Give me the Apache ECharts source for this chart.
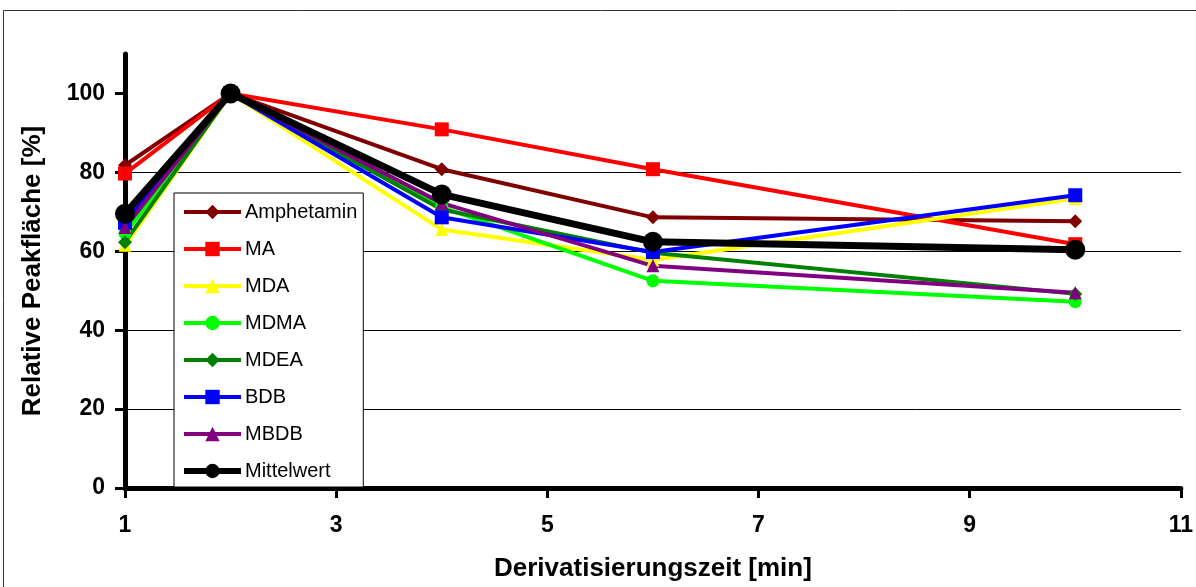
<!DOCTYPE html>
<html>
<head>
<meta charset="utf-8">
<script src="https://cdn.jsdelivr.net/npm/echarts@6/dist/echarts.min.js"></script>
<style>
  html, body { margin: 0; padding: 0; background: #fff; }
  #chart { width: 1196px; height: 587px; }
</style>
</head>
<body>
<div id="chart"></div>
<script>
// Derivatisierungszeit in Minuten
const times = [1, 2, 4, 6, 10];

// Relative Peakfläche [%] je Substanz
const amphetamin = [81.8, 100, 80.8, 68.6, 67.6];
const ma         = [79.7, 100, 90.9, 80.8, 61.8];
const mda        = [61.5, 100, 65.5, 57.8, 73.4];
const mdma       = [64.5, 100, 71.2, 52.5, 47.2];
const mdea       = [62.3, 100, 70.6, 59.6, 49.2];
const bdb        = [67.2, 100, 68.6, 59.8, 74.2];
const mbdb       = [66.0, 100, 72.2, 56.3, 49.5];
const mittelwert = [69.5, 100, 74.4, 62.4, 60.4];

const yTicks = [0, 20, 40, 60, 80, 100];

const FONT = '"Liberation Sans", Arial, sans-serif';

function pairs(values) {
  return times.map((t, i) => [t, values[i]]);
}

function mkSeries(name, values, color, symbol, symbolSize, width) {
  return {
    name: name,
    type: 'line',
    data: pairs(values),
    symbol: symbol,
    symbolSize: symbolSize,
    showAllSymbol: true,
    lineStyle: { color: color, width: width },
    itemStyle: { color: color, borderWidth: 0 },
    emphasis: { disabled: true },
    animation: false
  };
}

const series = [
  mkSeries('Amphetamin', amphetamin, '#800000', 'diamond', 14, 4),
  mkSeries('MA',         ma,         '#FF0000', 'rect',    14, 4),
  mkSeries('MDA',        mda,        '#FFFF00', 'triangle',13, 4),
  mkSeries('MDMA',       mdma,       '#00FF00', 'circle',  13, 4),
  mkSeries('MDEA',       mdea,       '#008000', 'diamond', 14, 4),
  mkSeries('BDB',        bdb,        '#0000FF', 'rect',    14, 4),
  mkSeries('MBDB',       mbdb,       '#800080', 'triangle',13, 4),
  mkSeries('Mittelwert', mittelwert, '#000000', 'circle',  20, 7)
];

// legend entries carry the same stroke widths as the lines
const legendData = series.map(s => ({
  name: s.name,
  lineStyle: { color: s.lineStyle.color, width: s.name === 'Mittelwert' ? 6 : 4 },
  itemStyle: { color: s.itemStyle.color }
}));

const chart = echarts.init(document.getElementById('chart'), null, { renderer: 'canvas' });

chart.setOption({
  backgroundColor: '#ffffff',
  animation: false,
  graphic: [{
    type: 'rect',
    shape: { x: 3.5, y: 10.5, width: 1300, height: 700 },
    style: { fill: 'none', stroke: '#333', lineWidth: 1 },
    z: 0,
    silent: true
  }],
  grid: { left: 125, right: 15, top: 54, bottom: 98, containLabel: false },
  legend: {
    orient: 'vertical',
    left: 174,
    top: 193,
    itemWidth: 57,
    itemHeight: 18,
    itemGap: 17,
    padding: [9, 6, 6, 7],
    backgroundColor: '#ffffff',
    borderColor: '#000000',
    borderWidth: 1,
    textStyle: { fontFamily: FONT, fontSize: 20, lineHeight: 20, color: '#000', padding: [0, 0, 0, -1] },
    data: legendData,
    selectedMode: false
  },
  xAxis: {
    type: 'value',
    min: 1,
    max: 11,
    interval: 2,
    name: 'Derivatisierungszeit [min]',
    nameLocation: 'middle',
    nameGap: 68,
    nameTextStyle: { fontFamily: FONT, fontSize: 26, fontWeight: 'bold', color: '#000' },
    axisLine: { show: true, onZero: false, lineStyle: { color: '#000', width: 5 } },
    axisTick: { show: true, inside: false, length: 10, lineStyle: { color: '#000', width: 3 } },
    axisLabel: { margin: 26, fontFamily: FONT, fontSize: 23, fontWeight: 'bold', color: '#000' },
    splitLine: { show: false }
  },
  yAxis: {
    type: 'value',
    min: 0,
    max: 110,
    interval: 20,
    name: 'Relative Peakfläche [%]',
    nameLocation: 'middle',
    nameGap: 79,
    nameRotate: 90,
    nameTextStyle: { fontFamily: FONT, fontSize: 26, fontWeight: 'bold', color: '#000' },
    axisLine: { show: true, lineStyle: { color: '#000', width: 5 } },
    axisTick: { show: true, inside: false, length: 10, customValues: yTicks, lineStyle: { color: '#000', width: 3 } },
    axisLabel: { margin: 20, customValues: yTicks, fontFamily: FONT, fontSize: 23, fontWeight: 'bold', color: '#000' },
    splitLine: { show: true, showMaxLine: false, lineStyle: { color: '#000', width: 1 } }
  },
  series: series
});
</script>
</body>
</html>
